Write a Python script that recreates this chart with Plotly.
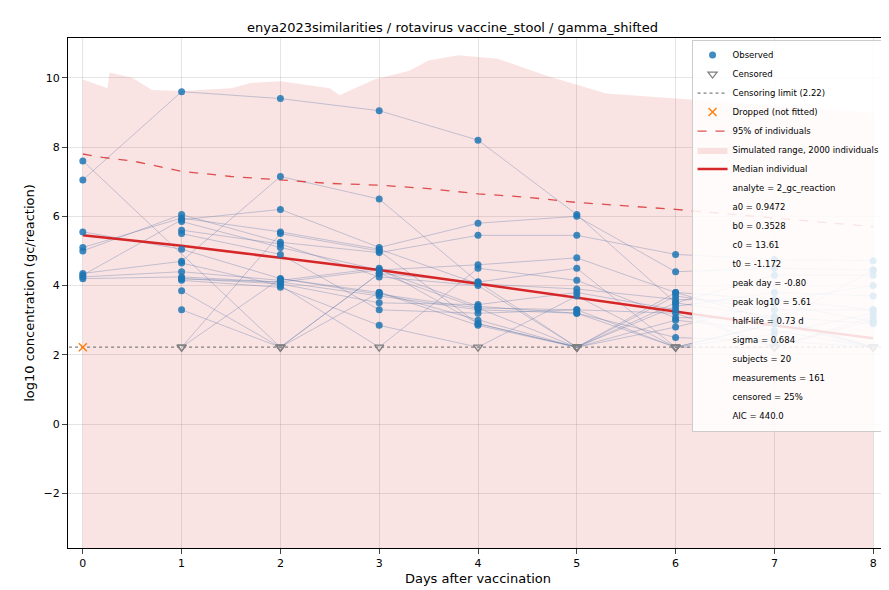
import plotly.graph_objects as go

LOD = 2.22
days = [0, 1, 2, 3, 4, 5, 6, 7, 8]

# per-subject log10 values; "c" = censored at LOD, "x" = dropped, None = missing
subjects = [
    [7.05, 9.6, 9.4, 9.05, 8.2, 6.05, 3.5, 3.1, 2.9],
    [7.6, None, "c", 4.35, 3.35, 3.3, "c", 2.9, "c"],
    [5.55, 5.05, 4.2, 3.8, 2.85, "c", 3.7, 3.3, 3.3],
    [5.1, 5.95, 5.55, 5.05, 4.05, 3.9, 3.6, 3.55, 4.0],
    [5.0, 6.05, 5.25, 4.95, 5.45, 5.45, 4.9, 4.75, 4.72],
    [4.35, 4.7, 7.15, 6.5, 4.1, "c", 3.0, 2.7, "c"],
    [4.3, 5.9, 6.2, 5.1, 5.8, 6.0, 4.4, 4.5, 4.45],
    [4.25, 4.4, 4.15, 4.5, 2.9, "c", 3.4, 3.8, 3.7],
    [4.2, 4.25, 4.1, 3.7, 3.3, 3.2, 2.5, 2.4, "c"],
    ["x", 4.2, 4.05, 3.5, 3.45, 3.8, 3.3, "c", 3.0],
    [None, 5.85, 5.1, 4.45, 4.6, 4.8, 3.8, 3.6, 3.3],
    [None, 5.6, 5.2, 4.25, 4.0, "c", 3.5, 4.3, 4.3],
    [None, 5.5, 4.9, 3.3, 3.2, 3.3, 3.2, "c", 3.1],
    [None, 4.65, 4.0, "c", 4.5, 4.15, 3.07, 3.1, "c"],
    [None, 4.15, 3.95, 2.85, "c", 3.7, "c", 2.9, 4.45],
    [None, 3.85, "c", 3.8, 3.0, "c", 2.8, 3.5, 2.95],
    [None, 3.3, "c", 4.35, 4.1, 4.5, "c", "c", None],
    [None, "c", 4.2, 3.75, 3.35, "c", 3.8, 3.0, "c"],
    [None, "c", 5.5, 5.0, 2.9, "c", None, None, None],
    [None, 4.2, 4.1, 4.45, 3.4, 3.2, "c", 2.6, 3.2],
]

band_x = [0, 0.25, 0.27, 0.5, 0.7, 1.0, 1.5, 1.7, 2.0, 2.5, 2.6, 2.95, 3.3, 3.5, 3.8,
          4.2, 4.7, 5.3, 6.0, 7.0, 8.0]
band_hi = [9.95, 9.7, 10.15, 10.0, 9.65, 9.62, 9.7, 9.85, 9.9, 9.7, 9.5, 9.95, 10.2,
           10.5, 10.65, 10.55, 10.05, 9.55, 9.4, 9.2, 9.0]
band_lo = -4.0

p95_x = [0, 0.2, 0.5, 1, 1.5, 2, 2.5, 3, 3.5, 4, 4.5, 5, 5.5, 6, 7, 8]
p95_y = [7.8, 7.7, 7.6, 7.3, 7.15, 7.05, 6.95, 6.9, 6.8, 6.65, 6.55, 6.4, 6.3, 6.2, 5.95, 5.7]

med_x = days
med_y = [5.45, 5.15, 4.8, 4.45, 4.05, 3.65, 3.25, 2.85, 2.48]

stats = ["analyte = 2_gc_reaction", "a0 = 0.9472", "b0 = 0.3528", "c0 = 13.61",
         "t0 = -1.172", "peak day = -0.80", "peak log10 = 5.61", "half-life = 0.73 d",
         "sigma = 0.684", "subjects = 20", "measurements = 161", "censored = 25%",
         "AIC = 440.0"]

fig = go.Figure()

# simulated range
fig.add_trace(go.Scatter(x=band_x + band_x[::-1], y=band_hi + [band_lo] * len(band_x),
                         fill="toself", fillcolor="rgba(214,39,40,0.13)", line=dict(width=0),
                         mode="lines", name="Simulated range, 2000 individuals",
                         legendrank=6))

obs_x, obs_y, cen_x, cen_y, drop_x, drop_y = [], [], [], [], [], []
for s in subjects:
    lx, ly = [], []
    for d, v in zip(days, s):
        if v is None:
            continue
        if v == "x":
            drop_x.append(d); drop_y.append(LOD)
            continue
        if v == "c":
            cen_x.append(d); cen_y.append(LOD); lx.append(d); ly.append(LOD)
        else:
            obs_x.append(d); obs_y.append(v); lx.append(d); ly.append(v)
    fig.add_trace(go.Scatter(x=lx, y=ly, mode="lines", showlegend=False,
                             line=dict(color="rgba(90,120,170,0.35)", width=1)))

fig.add_trace(go.Scatter(x=[-0.2, 8.2], y=[LOD, LOD], mode="lines", name="Censoring limit (2.22)",
                         line=dict(color="gray", dash="dot", width=1.3), legendrank=3))
fig.add_trace(go.Scatter(x=p95_x, y=p95_y, mode="lines", name="95% of individuals",
                         line=dict(color="rgba(214,39,40,0.8)", dash="dash", width=1.3),
                         legendrank=5))
fig.add_trace(go.Scatter(x=med_x, y=med_y, mode="lines", name="Median individual",
                         line=dict(color="#d62728", width=2.5), legendrank=7))
fig.add_trace(go.Scatter(x=obs_x, y=obs_y, mode="markers", name="Observed", legendrank=1,
                         marker=dict(color="#1f77b4", size=7, opacity=0.85)))
fig.add_trace(go.Scatter(x=cen_x, y=cen_y, mode="markers", name="Censored", legendrank=2,
                         marker=dict(symbol="triangle-down-open", color="gray", size=8,
                                     line=dict(width=1.3))))
fig.add_trace(go.Scatter(x=drop_x, y=drop_y, mode="markers", name="Dropped (not fitted)",
                         legendrank=4, marker=dict(symbol="x-thin-open", color="#ff7f0e", size=8,
                                                   line=dict(width=1.5, color="#ff7f0e"))))
for i, t in enumerate(stats):
    fig.add_trace(go.Scatter(x=[None], y=[None], mode="markers", name=t, legendrank=10 + i,
                             marker=dict(color="rgba(0,0,0,0)")))

fig.update_layout(
    width=889, height=590, template="none",
    font=dict(family="DejaVu Sans", size=11, color="black"),
    title=dict(text="enya2023similarities / rotavirus vaccine_stool / gamma_shifted",
               x=0.5, xanchor="center", y=0.975, font=dict(size=13)),
    margin=dict(l=60, r=9, t=30, b=50, pad=0),
    legend=dict(x=0.997, y=0.997, xanchor="right", yanchor="top", font=dict(size=8.5),
                bgcolor="rgba(255,255,255,0.85)", bordercolor="#ccc", borderwidth=1,
                tracegroupgap=0, itemwidth=30),
    xaxis=dict(title=dict(text="Days after vaccination", standoff=4), range=[-0.15, 8.15],
               tickvals=days, showline=True, mirror=True, linecolor="black", ticks="outside",
               gridcolor="rgba(0,0,0,0.1)", zeroline=False, automargin=False),
    yaxis=dict(title=dict(text="log10 concentration (gc/reaction)", standoff=6),
               range=[-3.58, 11.15], tickvals=[-2, 0, 2, 4, 6, 8, 10],
               ticktext=["\u22122", "0", "2", "4", "6", "8", "10"], showline=True,
               mirror=True, linecolor="black", ticks="outside",
               gridcolor="rgba(0,0,0,0.1)", zeroline=False, automargin=False),
)

fig.write_html("out.html")
